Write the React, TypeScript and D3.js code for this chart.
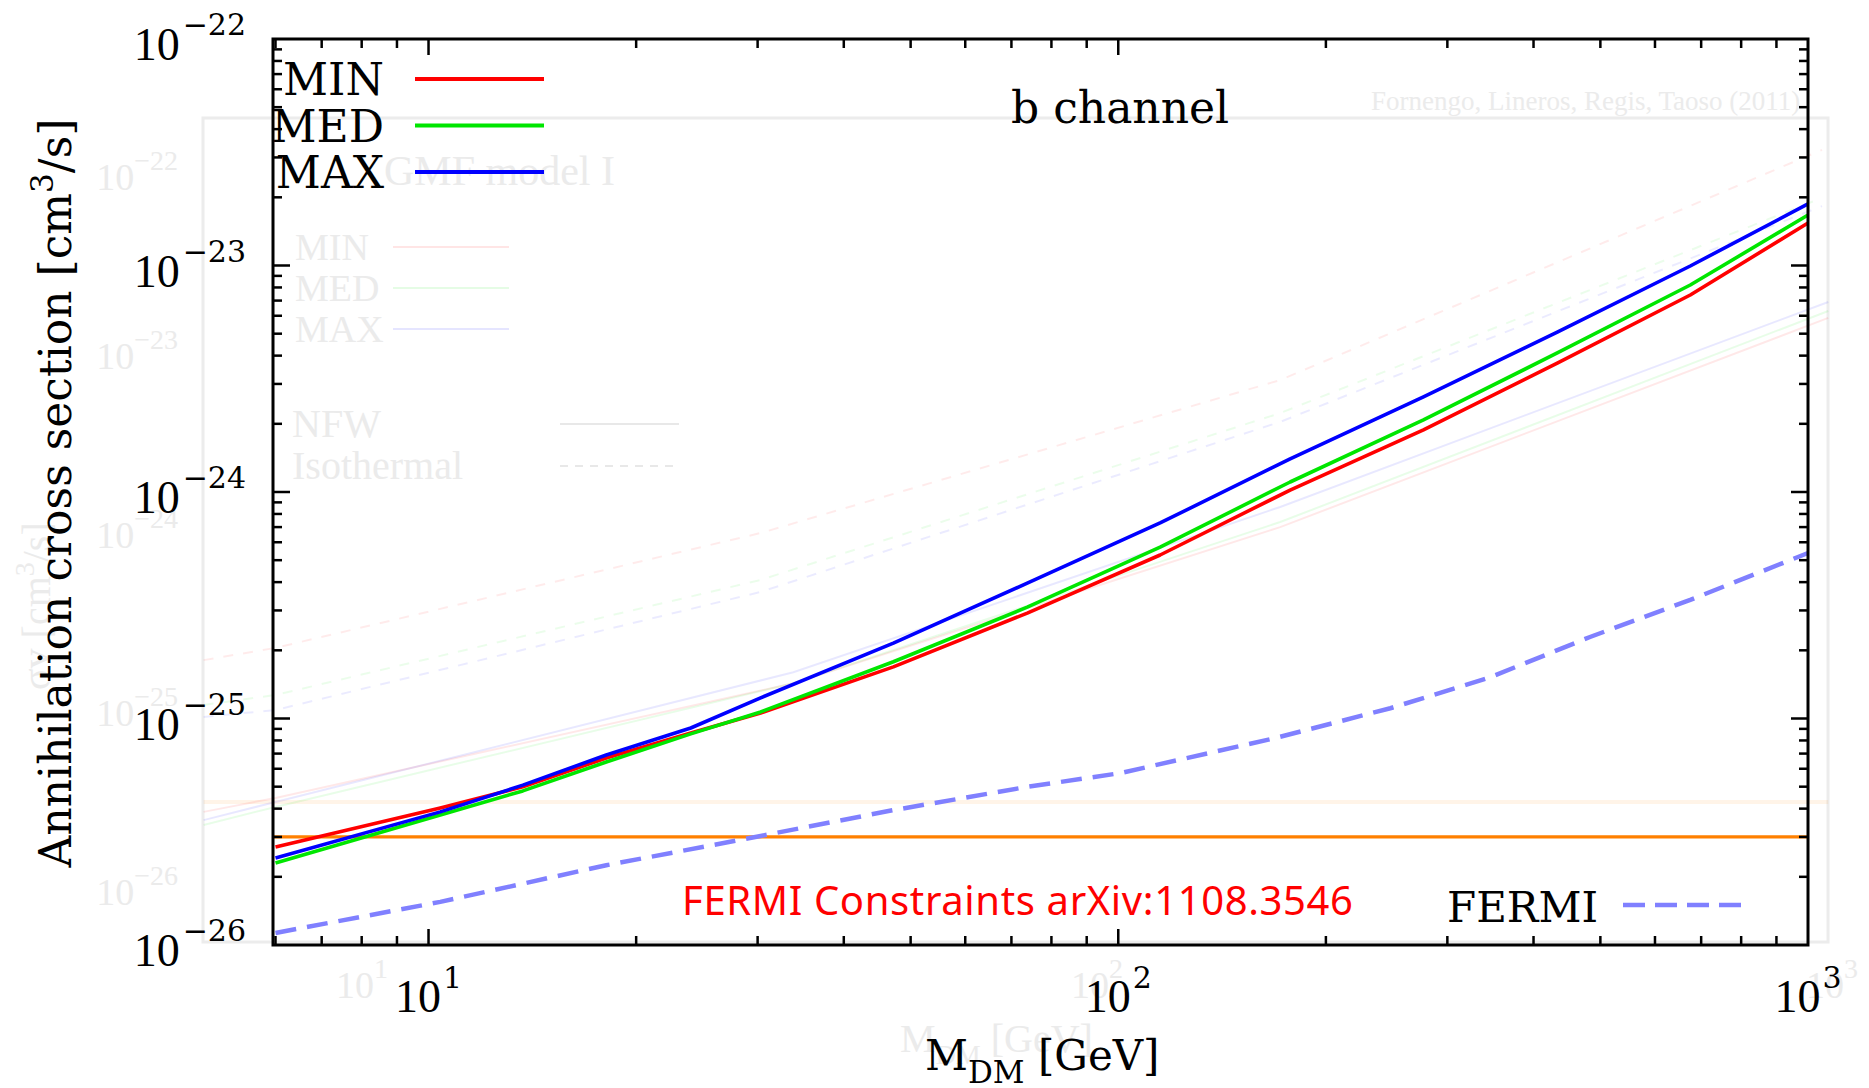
import React from 'react';
import * as d3 from 'd3';

const W = 1869;
const H = 1088;

// ---- main data ----
const massDM = [6, 10.4, 13.7, 18.1, 24, 30.3, 47.2, 73.8, 115, 177.5, 277, 433, 675, 1000];
const sigmaMIN = [2.71e-26, 4.03e-26, 4.99e-26, 6.69e-26, 8.63e-26, 1.057e-25, 1.69e-25, 2.92e-25, 5.27e-25, 1.02e-24, 1.88e-24, 3.71e-24, 7.41e-24, 1.54e-23];
const sigmaMED = [2.30e-26, 3.75e-26, 4.79e-26, 6.43e-26, 8.55e-26, 1.069e-25, 1.78e-25, 3.10e-25, 5.71e-25, 1.107e-24, 2.08e-24, 4.11e-24, 8.20e-24, 1.67e-23];
const sigmaMAX = [2.42e-26, 3.87e-26, 5.08e-26, 6.90e-26, 9.08e-26, 1.233e-25, 2.15e-25, 3.96e-25, 7.30e-25, 1.40e-24, 2.63e-24, 5.08e-24, 9.95e-24, 1.87e-23];

const massFermi = [6, 10.4, 18.1, 30.3, 47.2, 73.8, 100.7, 169, 248, 346, 483, 675, 1000];
const sigmaFermi = [1.13e-26, 1.55e-26, 2.25e-26, 3.03e-26, 3.94e-26, 4.99e-26, 5.74e-26, 8.20e-26, 1.11e-25, 1.52e-25, 2.29e-25, 3.34e-25, 5.38e-25];

const thermalSigma = 3.0e-26;

const seriesLabels = ['MIN', 'MED', 'MAX'];
const seriesColors = ['#ff0000', '#00e600', '#0000ff'];

const xTickExps = [1, 2, 3];
const yTickExps = [-22, -23, -24, -25, -26];

// ---- faded background figure (ghost), expressed in the same axes ----
const ghostMassDashed = [4.72, 6, 30.3, 171.7, 1048];
const ghostDashedRed = [1.81e-25, 2.05e-25, 6.59e-25, 3.12e-24, 3.24e-23];
const ghostDashedGreen = [1.148e-25, 1.27e-25, 4.09e-25, 2.23e-24, 1.99e-23];
const ghostDashedBlue = [1.016e-25, 1.09e-25, 3.62e-25, 2.04e-24, 1.83e-23];
const ghostMassSolid = [4.72, 6, 33.8, 171.7, 1070];
const ghostSolidRed = [3.87e-26, 4.46e-26, 1.43e-25, 7.0e-25, 5.87e-24];
const ghostSolidGreen = [3.39e-26, 4.07e-26, 1.43e-25, 7.37e-25, 6.30e-24];
const ghostSolidBlue = [3.56e-26, 4.28e-26, 1.60e-25, 8.59e-25, 6.90e-24];
const ghostThermal = 4.28e-26;
const ghostMassRange = [4.72, 1070];
const ghostYLabelExps = [-22, -23, -24, -25, -26];
const ghostXLabelExps = [1, 2, 3];

const SERIF = "'DejaVu Serif', serif";
const TIMES = "'Liberation Serif', 'Times New Roman', serif";

export default function App() {
  const x = d3.scaleLog().domain([5.95, 1000]).range([273, 1808]);
  const y = d3.scaleLog().domain([1e-26, 1e-22]).range([945, 39]);

  const line = d3
    .line<[number, number]>()
    .x((d) => x(d[0]))
    .y((d) => y(d[1]));

  const zip = (m: number[], s: number[]) => m.map((v, i) => [v, s[i]] as [number, number]);

  const mainSeries = [sigmaMIN, sigmaMED, sigmaMAX];

  const [x0, x1] = x.range();
  const [yb, yt] = y.range();

  const isMajor = (v: number) => Math.abs(Math.log10(v) - Math.round(Math.log10(v))) < 1e-6;
  const xt = x.ticks();
  const ytk = y.ticks();

  const ghostColor = '#ebebeb';
  const ghostYLab = d3.scaleLinear().domain([-22, -26]).range([190, 905]);
  const ghostXLab = d3.scaleLinear().domain([1, 3]).range([362, 1832]);

  return (
    <svg
      width={W}
      height={H}
      viewBox={`0 0 ${W} ${H}`}
      style={{ position: 'absolute', left: 0, top: 0, background: '#fff' }}
    >
      <rect x={0} y={0} width={W} height={H} fill="#fff" />

      {/* ghost background figure */}
      <g>
        <rect x={203} y={118} width={1625} height={824} fill="none" stroke="#ececec" strokeWidth={3} />
        <text x={1371} y={110} fontFamily={TIMES} fontSize={27} fill={ghostColor}>
          Fornengo, Lineros, Regis, Taoso (2011)
        </text>
        <text x={384} y={185} fontFamily={TIMES} fontSize={42} fill={ghostColor}>
          GMF model I
        </text>
        {seriesLabels.map((lab, i) => (
          <g key={'gl' + i}>
            <text x={295} y={260 + i * 41} fontFamily={TIMES} fontSize={38} fill={ghostColor}>
              {lab}
            </text>
            <line x1={393} x2={509} y1={247 + i * 41} y2={247 + i * 41} stroke={seriesColors[i]} strokeOpacity={0.1} strokeWidth={2} />
          </g>
        ))}
        <text x={292} y={437} fontFamily={TIMES} fontSize={40} fill={ghostColor}>NFW</text>
        <text x={292} y={479} fontFamily={TIMES} fontSize={40} fill={ghostColor}>Isothermal</text>
        <line x1={560} x2={679} y1={424} y2={424} stroke="#e8e8e8" strokeWidth={2} />
        <line x1={560} x2={679} y1={466} y2={466} stroke="#e8e8e8" strokeWidth={2} strokeDasharray="8 7" />
        {ghostYLabelExps.map((e) => (
          <text key={'gy' + e} x={178} y={ghostYLab(e)} textAnchor="end" fontFamily={TIMES} fill={ghostColor} fontSize={38}>
            10<tspan dy={-20} fontSize={28}>{'\u2212' + Math.abs(e)}</tspan>
          </text>
        ))}
        {ghostXLabelExps.map((e) => (
          <text key={'gx' + e} x={ghostXLab(e)} y={998} textAnchor="middle" fontFamily={TIMES} fill={ghostColor} fontSize={38}>
            10<tspan dy={-20} fontSize={28}>{e}</tspan>
          </text>
        ))}
        <text x={900} y={1052} fontFamily={TIMES} fill={ghostColor} fontSize={40}>
          M<tspan dy={12} fontSize={28}>DM</tspan>
          <tspan dy={-12}> [GeV]</tspan>
        </text>
        <text transform="translate(50,690) rotate(-90)" fontFamily={TIMES} fill={ghostColor} fontSize={40}>
          {'\u03c3v [cm'}
          <tspan dy={-16} fontSize={28}>3</tspan>
          <tspan dy={16}>/s]</tspan>
        </text>
        <line x1={x(ghostMassRange[0])} x2={x(ghostMassRange[1])} y1={y(ghostThermal)} y2={y(ghostThermal)} stroke="#ff8000" strokeOpacity={0.09} strokeWidth={4} />
        {[ghostDashedRed, ghostDashedGreen, ghostDashedBlue].map((s, i) => (
          <path key={'gd' + i} d={line(zip(ghostMassDashed, s)) || ''} fill="none" stroke={seriesColors[i]} strokeOpacity={0.08} strokeWidth={2} strokeDasharray="10 10" />
        ))}
        {[ghostSolidRed, ghostSolidGreen, ghostSolidBlue].map((s, i) => (
          <path key={'gs' + i} d={line(zip(ghostMassSolid, s)) || ''} fill="none" stroke={seriesColors[i]} strokeOpacity={0.09} strokeWidth={2} />
        ))}
      </g>

      {/* main figure */}
      <g>
        {/* thermal line */}
        <line x1={x0} x2={x1} y1={y(thermalSigma)} y2={y(thermalSigma)} stroke="#ff8000" strokeWidth={3.2} />
        {/* FERMI dashed */}
        <path d={line(zip(massFermi, sigmaFermi)) || ''} fill="none" stroke="#8080ff" strokeWidth={4.5} strokeDasharray="21 11" />
        {/* MIN MED MAX */}
        {mainSeries.map((s, i) => (
          <path key={'m' + i} d={line(zip(massDM, s)) || ''} fill="none" stroke={seriesColors[i]} strokeWidth={3.6} strokeLinejoin="round" />
        ))}

        {/* frame */}
        <rect x={x0} y={yt} width={x1 - x0} height={yb - yt} fill="none" stroke="#000" strokeWidth={3} />
        {/* x ticks */}
        {xt.map((v, i) => {
          const len = isMajor(v) ? 16 : 9;
          const px = x(v);
          if (px < x0 + 2 || px > x1 - 2) return null;
          return (
            <g key={'xt' + i}>
              <line x1={px} x2={px} y1={yb} y2={yb - len} stroke="#000" strokeWidth={2.5} />
              <line x1={px} x2={px} y1={yt} y2={yt + len} stroke="#000" strokeWidth={2.5} />
            </g>
          );
        })}
        {/* y ticks */}
        {ytk.map((v, i) => {
          const len = isMajor(v) ? 17 : 9;
          const py = y(v);
          if (py > yb - 2 || py < yt + 2) return null;
          return (
            <g key={'yt' + i}>
              <line x1={x0} x2={x0 + len} y1={py} y2={py} stroke="#000" strokeWidth={2.5} />
              <line x1={x1} x2={x1 - len} y1={py} y2={py} stroke="#000" strokeWidth={2.5} />
            </g>
          );
        })}

        {/* y tick labels */}
        {yTickExps.map((e) => (
          <text key={'yl' + e} x={246} y={y(Math.pow(10, e)) + 21} textAnchor="end" fontFamily={TIMES} fontSize={46} fill="#000">
            10<tspan dx={3} dy={-25} fontSize={30} fontFamily={SERIF}>{'\u2212' + Math.abs(e)}</tspan>
          </text>
        ))}
        {/* x tick labels */}
        {xTickExps.map((e) => (
          <text key={'xl' + e} x={x(Math.pow(10, e))} y={1012} textAnchor="middle" fontFamily={TIMES} fontSize={46} fill="#000">
            10<tspan dx={2} dy={-24} fontSize={30} fontFamily={SERIF}>{e}</tspan>
          </text>
        ))}

        {/* axis titles */}
        <text x={925} y={1070} fontFamily={SERIF} fontSize={42} fill="#000">
          M<tspan dy={13} fontSize={31}>DM</tspan>
          <tspan dy={-13}> [GeV]</tspan>
        </text>
        <text transform="translate(71,493) rotate(-90)" textAnchor="middle" fontFamily={SERIF} fontSize={44} fill="#000">
          Annihilation cross section [cm
          <tspan dy={-18} fontSize={31}>3</tspan>
          <tspan dy={18}>/s]</tspan>
        </text>

        {/* title */}
        <text x={1011} y={123} fontFamily={SERIF} fontSize={44} fill="#000">b channel</text>

        {/* legend */}
        {seriesLabels.map((lab, i) => (
          <g key={'lg' + i}>
            <text x={384} y={95 + i * 46.5} textAnchor="end" fontFamily={SERIF} fontSize={44} fill="#000">
              {lab}
            </text>
            <line x1={415} x2={544} y1={79 + i * 46.5} y2={79 + i * 46.5} stroke={seriesColors[i]} strokeWidth={4} />
          </g>
        ))}
        <text x={1447} y={922} fontFamily={SERIF} fontSize={42} fill="#000">FERMI</text>
        <line x1={1623} x2={1751} y1={905} y2={905} stroke="#8080ff" strokeWidth={4.5} strokeDasharray="22 10" />

        {/* annotation */}
        <text x={682} y={915} fontFamily="'Noto Sans', sans-serif" fontSize={40} textLength={671} lengthAdjust="spacing" fill="#ff0000">
          FERMI Constraints arXiv:1108.3546
        </text>
      </g>
    </svg>
  );
}
